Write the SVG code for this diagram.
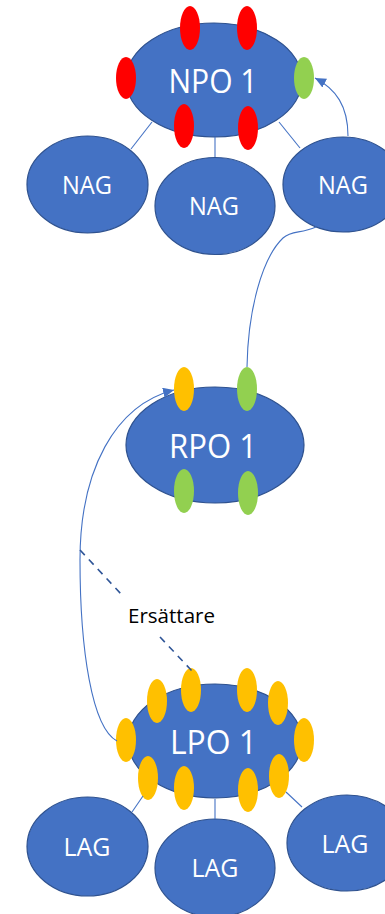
<svg xmlns="http://www.w3.org/2000/svg" width="385" height="914" viewBox="0 0 385 914">
  <style>
    .node { fill: #4472C4; stroke: #2F528F; stroke-width: 1.2; }
    .lbl { fill: #FFFFFF; font-family: "Open Sans", "DejaVu Sans", sans-serif; text-anchor: middle; }
    .big { font-size: 32px; }
    .small { font-size: 25px; }
    .red { fill: #FF0000; }
    .green { fill: #92D050; }
    .gold { fill: #FFC000; }
    .link { fill: none; stroke: #4472C4; stroke-width: 1.1; }
    .dash { fill: none; stroke: #2F5597; stroke-width: 1.6; stroke-dasharray: 7 6; }
    .note { fill: #000000; font-family: "Open Sans", "DejaVu Sans", sans-serif; font-size: 20px; }
  </style>
  <defs>
    <marker id="arrow" markerUnits="userSpaceOnUse" markerWidth="12" markerHeight="10" refX="11" refY="5" orient="auto">
      <path d="M0,0 L11,5 L0,10 Z" fill="#4472C4"/>
    </marker>
  </defs>

  <rect width="385" height="914" fill="#FFFFFF"/>

  <!-- national level -->
  <g id="npo1">
    <ellipse class="node" cx="214" cy="80" rx="88" ry="57"/>
    <text class="lbl big" x="213" y="93" textLength="89" lengthAdjust="spacingAndGlyphs">NPO 1</text>
    <ellipse class="red" cx="190" cy="28" rx="10" ry="22"/>
    <ellipse class="red" cx="247" cy="28" rx="10" ry="22"/>
    <ellipse class="red" cx="126" cy="78" rx="10" ry="21"/>
    <ellipse class="green" cx="304" cy="78" rx="10" ry="21"/>
    <ellipse class="red" cx="184" cy="126" rx="10" ry="22"/>
    <ellipse class="red" cx="248" cy="128" rx="10" ry="22"/>
  </g>
  <g id="nag-left">
    <ellipse class="node" cx="87.5" cy="184.5" rx="60.5" ry="48.5"/>
    <text class="lbl small" x="87" y="194" textLength="50" lengthAdjust="spacingAndGlyphs">NAG</text>
  </g>
  <g id="nag-mid">
    <ellipse class="node" cx="215" cy="206" rx="60" ry="48.5"/>
    <text class="lbl small" x="214" y="215" textLength="50" lengthAdjust="spacingAndGlyphs">NAG</text>
  </g>
  <g id="nag-right">
    <ellipse class="node" cx="343" cy="184.5" rx="60" ry="47.5"/>
    <text class="lbl small" x="343" y="194" textLength="50" lengthAdjust="spacingAndGlyphs">NAG</text>
  </g>

  <!-- regional level -->
  <g id="rpo1">
    <ellipse class="node" cx="215" cy="445" rx="89" ry="58"/>
    <text class="lbl big" x="213" y="458" textLength="88" lengthAdjust="spacingAndGlyphs">RPO 1</text>
    <ellipse class="gold" cx="184" cy="389" rx="10" ry="22"/>
    <ellipse class="green" cx="247" cy="389" rx="10" ry="22"/>
    <ellipse class="green" cx="184" cy="491" rx="10" ry="22"/>
    <ellipse class="green" cx="248" cy="493" rx="10" ry="22"/>
  </g>

  <!-- local level -->
  <g id="lpo1">
    <ellipse class="node" cx="215" cy="741" rx="87" ry="57"/>
    <text class="lbl big" x="213.5" y="754" textLength="87" lengthAdjust="spacingAndGlyphs">LPO 1</text>
    <ellipse class="gold" cx="157" cy="701" rx="10" ry="22"/>
    <ellipse class="gold" cx="191" cy="690" rx="10" ry="22"/>
    <ellipse class="gold" cx="247" cy="690" rx="10" ry="22"/>
    <ellipse class="gold" cx="278" cy="703" rx="10" ry="22"/>
    <ellipse class="gold" cx="126" cy="740" rx="10" ry="22"/>
    <ellipse class="gold" cx="304" cy="740" rx="10" ry="22"/>
    <ellipse class="gold" cx="148" cy="778" rx="10" ry="22"/>
    <ellipse class="gold" cx="184" cy="788" rx="10" ry="22"/>
    <ellipse class="gold" cx="248" cy="790" rx="10" ry="22"/>
    <ellipse class="gold" cx="279" cy="776" rx="10" ry="22"/>
  </g>
  <g id="lag-left">
    <ellipse class="node" cx="87.5" cy="846.5" rx="60.5" ry="49.5"/>
    <text class="lbl small" x="87" y="856" textLength="47" lengthAdjust="spacingAndGlyphs">LAG</text>
  </g>
  <g id="lag-mid">
    <ellipse class="node" cx="215" cy="868" rx="60" ry="49"/>
    <text class="lbl small" x="215" y="877" textLength="47" lengthAdjust="spacingAndGlyphs">LAG</text>
  </g>
  <g id="lag-right">
    <ellipse class="node" cx="347" cy="843" rx="60" ry="48"/>
    <text class="lbl small" x="345" y="853" textLength="47" lengthAdjust="spacingAndGlyphs">LAG</text>
  </g>

  <!-- connectors -->
  <g id="connectors">
    <path class="link" d="M152,122 L131,149"/>
    <path class="link" d="M215,137 L215,157"/>
    <path class="link" d="M279,122 L300,148"/>
    <path class="link" d="M348,136 C348,106 336,89 315,78" marker-end="url(#arrow)"/>
    <path class="link" d="M316,227 C300,234 292,230 283,238 C262,258 248,310 247,367"/>
    <path class="link" d="M117,741 C92,728 80,650 80,560 C80,470 115,405 174,390" marker-end="url(#arrow)"/>
    <path class="dash" d="M80,550 L121,594 M160,637 L192,671"/>
    <text class="note" x="128" y="623" textLength="87" lengthAdjust="spacingAndGlyphs">Ersättare</text>
    <path class="link" d="M143,796 L132,812"/>
    <path class="link" d="M215,799 L215,819"/>
    <path class="link" d="M286,792 L302,807"/>
  </g>
</svg>
